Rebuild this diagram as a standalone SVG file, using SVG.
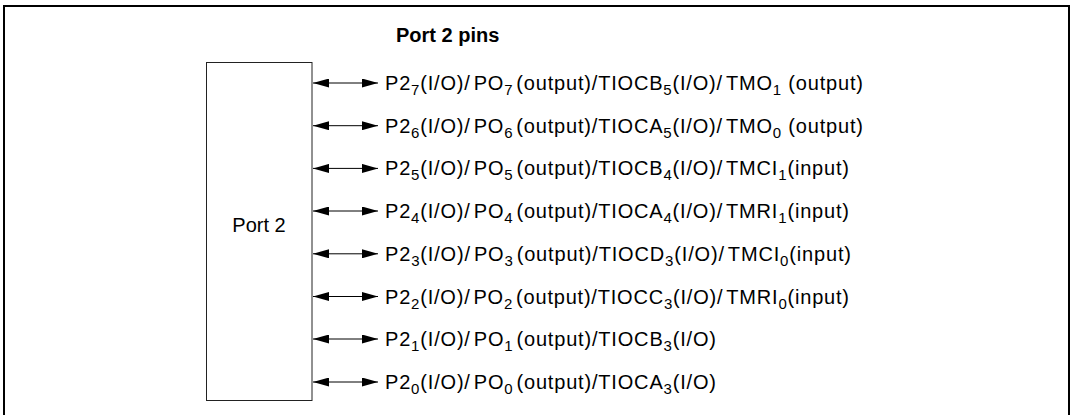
<svg xmlns="http://www.w3.org/2000/svg" width="1072" height="415" viewBox="0 0 1072 415">
<defs>
<marker id="ah" viewBox="0 0 16 9" refX="16" refY="4.5" markerWidth="16" markerHeight="9" markerUnits="userSpaceOnUse" orient="auto-start-reverse">
<path d="M0,0 L16,4.5 L0,9 z" fill="#000"/>
</marker>
<style>
.t{font-family:"Liberation Sans",Arial,sans-serif;font-size:20px;fill:#000}
.s{font-size:15px}
.c{stroke:#000;stroke-width:1;fill:none;marker-start:url(#ah);marker-end:url(#ah)}
</style>
</defs>
<rect x="4" y="6" width="1065" height="420" fill="#fff" stroke="#000" stroke-width="2"/>
<text x="396" y="42" class="t" style="font-weight:bold;font-size:20px">Port 2 pins</text>
<g id="port2">
<rect x="206.5" y="62.5" width="105.5" height="338" fill="#fff" stroke="#222" stroke-width="1"/>
<text x="259" y="232" class="t" text-anchor="middle">Port 2</text>
</g>
<g id="connectors">
<line x1="313" y1="83" x2="378" y2="83" class="c"/>
<line x1="313" y1="125.7" x2="378" y2="125.7" class="c"/>
<line x1="313" y1="168.4" x2="378" y2="168.4" class="c"/>
<line x1="313" y1="211" x2="378" y2="211" class="c"/>
<line x1="313" y1="253.8" x2="378" y2="253.8" class="c"/>
<line x1="313" y1="296.5" x2="378" y2="296.5" class="c"/>
<line x1="313" y1="339" x2="378" y2="339" class="c"/>
<line x1="313" y1="382" x2="378" y2="382" class="c"/>
</g>
<g id="pins">
<text x="385" y="90" class="t" textLength="478" lengthAdjust="spacing">P2<tspan class="s" dy="5">7</tspan><tspan dy="-5">(I/O)/</tspan><tspan dx="3">PO</tspan><tspan class="s" dy="5">7</tspan><tspan dy="-5" dx="3">(output)/TIOCB</tspan><tspan class="s" dy="5">5</tspan><tspan dy="-5">(I/O)/</tspan><tspan dx="3">TMO</tspan><tspan class="s" dy="5">1</tspan><tspan dy="-5"> (output)</tspan></text>
<text x="385" y="132.7" class="t" textLength="478" lengthAdjust="spacing">P2<tspan class="s" dy="5">6</tspan><tspan dy="-5">(I/O)/</tspan><tspan dx="3">PO</tspan><tspan class="s" dy="5">6</tspan><tspan dy="-5" dx="3">(output)/TIOCA</tspan><tspan class="s" dy="5">5</tspan><tspan dy="-5">(I/O)/</tspan><tspan dx="3">TMO</tspan><tspan class="s" dy="5">0</tspan><tspan dy="-5"> (output)</tspan></text>
<text x="385" y="175.4" class="t" textLength="464" lengthAdjust="spacing">P2<tspan class="s" dy="5">5</tspan><tspan dy="-5">(I/O)/</tspan><tspan dx="3">PO</tspan><tspan class="s" dy="5">5</tspan><tspan dy="-5" dx="3">(output)/TIOCB</tspan><tspan class="s" dy="5">4</tspan><tspan dy="-5">(I/O)/</tspan><tspan dx="3">TMCI</tspan><tspan class="s" dy="5">1</tspan><tspan dy="-5">(input)</tspan></text>
<text x="385" y="218" class="t" textLength="464" lengthAdjust="spacing">P2<tspan class="s" dy="5">4</tspan><tspan dy="-5">(I/O)/</tspan><tspan dx="3">PO</tspan><tspan class="s" dy="5">4</tspan><tspan dy="-5" dx="3">(output)/TIOCA</tspan><tspan class="s" dy="5">4</tspan><tspan dy="-5">(I/O)/</tspan><tspan dx="3">TMRI</tspan><tspan class="s" dy="5">1</tspan><tspan dy="-5">(input)</tspan></text>
<text x="385" y="260.8" class="t" textLength="466" lengthAdjust="spacing">P2<tspan class="s" dy="5">3</tspan><tspan dy="-5">(I/O)/</tspan><tspan dx="3">PO</tspan><tspan class="s" dy="5">3</tspan><tspan dy="-5" dx="3">(output)/TIOCD</tspan><tspan class="s" dy="5">3</tspan><tspan dy="-5">(I/O)/</tspan><tspan dx="3">TMCI</tspan><tspan class="s" dy="5">0</tspan><tspan dy="-5">(input)</tspan></text>
<text x="385" y="303.5" class="t" textLength="464" lengthAdjust="spacing">P2<tspan class="s" dy="5">2</tspan><tspan dy="-5">(I/O)/</tspan><tspan dx="3">PO</tspan><tspan class="s" dy="5">2</tspan><tspan dy="-5" dx="3">(output)/TIOCC</tspan><tspan class="s" dy="5">3</tspan><tspan dy="-5">(I/O)/</tspan><tspan dx="3">TMRI</tspan><tspan class="s" dy="5">0</tspan><tspan dy="-5">(input)</tspan></text>
<text x="385" y="346" class="t" textLength="331" lengthAdjust="spacing">P2<tspan class="s" dy="5">1</tspan><tspan dy="-5">(I/O)/</tspan><tspan dx="3">PO</tspan><tspan class="s" dy="5">1</tspan><tspan dy="-5" dx="3">(output)/TIOCB</tspan><tspan class="s" dy="5">3</tspan><tspan dy="-5">(I/O)</tspan></text>
<text x="385" y="389" class="t" textLength="331" lengthAdjust="spacing">P2<tspan class="s" dy="5">0</tspan><tspan dy="-5">(I/O)/</tspan><tspan dx="3">PO</tspan><tspan class="s" dy="5">0</tspan><tspan dy="-5" dx="3">(output)/TIOCA</tspan><tspan class="s" dy="5">3</tspan><tspan dy="-5">(I/O)</tspan></text>
</g>
</svg>
